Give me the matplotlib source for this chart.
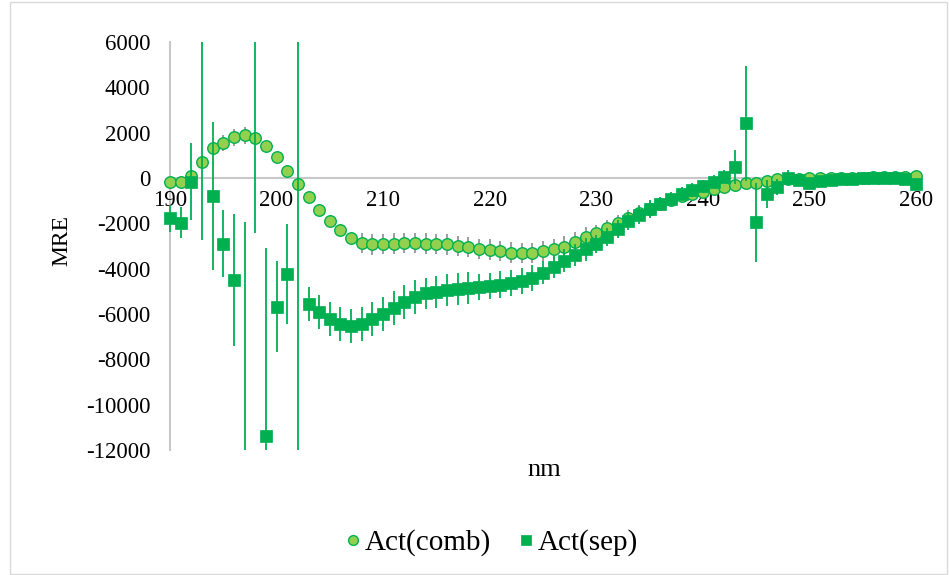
import matplotlib
matplotlib.use("Agg")
import matplotlib.pyplot as plt
from matplotlib.patches import Rectangle
import numpy as np

plt.rcParams['font.family'] = ['Liberation Serif', 'DejaVu Serif']

# ---------------- data ----------------
wavelength = list(range(190, 261))

comb_mre = [-160, -160, 100, 690, 1310, 1545, 1800, 1885, 1780, 1410,
            910, 320, -265, -825, -1410, -1885, -2300, -2660, -2860, -2930,
            -2900, -2890, -2880, -2880, -2890, -2900, -2930, -2990, -3050, -3120,
            -3160, -3220, -3290, -3300, -3300, -3220, -3150, -3030, -2820, -2620,
            -2410, -2210, -2000, -1780, -1560, -1350, -1150, -960, -800, -690,
            -600, -500, -390, -290, -240, -210, -130, -60, -30, -40,
            -20, -20, -10, 0, 10, 20, 30, 30, 30, 40,
            80]
comb_err = ([150] * 5 + [370] * 3 + [250] * 10 + [450] * 22 + [350] * 6
            + [200] * 10 + [100] * 15)

sep_mre = [-1780, -1973, -160, 7500, -790, -2900, -4500, -13000, 7500, -11390,
           -5680, -4250, -16000, -5560, -5900, -6220, -6420, -6520, -6420, -6200,
           -6000, -5750, -5460, -5240, -5090, -5020, -4950, -4900, -4840, -4800,
           -4750, -4700, -4620, -4530, -4400, -4170, -3920, -3650, -3400, -3150,
           -2900, -2600, -2250, -1900, -1620, -1360, -1140, -910, -690, -530,
           -370, -160, 60, 500, 2410, -1960, -710, -380, 20, -100,
           -240, -130, -80, -50, -30, -10, 0, -10, -20, -60,
           -270]
sep_err = ([600, 690, 1700, 10237, 3250, 1470, 2930, 11071, 9941, 8286,
            2000, 2200, 23000] + [750] * 11 + [700] * 5 + [580] * 6 + [500] * 5
           + [400] * 6 + [300] * 7 + [750, 2550, 1760, 600, 350, 350]
           + [150] * 11 + [250])

x_ticks = [190, 200, 210, 220, 230, 240, 250, 260]
y_ticks = [6000, 4000, 2000, 0, -2000, -4000, -6000, -8000, -10000, -12000]
y_tick_labels = ['6000', '4000', '2000', '0', '-2000', '-4000', '-6000',
                 '-8000', '-10000', '-12000']
series_names = ['Act(comb)', 'Act(sep)']

# ---------------- figure ----------------
W, H = 950, 575
fig = plt.figure(figsize=(W / 100, H / 100), dpi=100)
fig.patches.append(Rectangle((10 / W, 1 / H), 937 / W, 572 / H,
                             transform=fig.transFigure, fill=False,
                             edgecolor='#D9D9D9', linewidth=1.0))

ax = fig.add_axes([162.5 / W, 125 / H, 761 / W, 408 / H])
ax.set_xlim(189.3, 260.7)
ax.set_ylim(-12000, 6000)

# axes lines
for s in ['top', 'right']:
    ax.spines[s].set_visible(False)
ax.spines['left'].set_position(('data', 190))
ax.spines['left'].set_bounds(-12000, 6000)
ax.spines['bottom'].set_position(('data', 0))
ax.spines['bottom'].set_bounds(190, 260)
for s in ['left', 'bottom']:
    ax.spines[s].set_color('#C8C8C8')
    ax.spines[s].set_linewidth(1.5)
    ax.spines[s].set_zorder(0.5)

ax.set_xticks(x_ticks)
ax.set_xticklabels([str(t) for t in x_ticks])
ax.set_yticks(y_ticks)
ax.set_yticklabels(y_tick_labels)
ax.tick_params(axis='both', length=0, labelsize=16.5)
ax.tick_params(axis='y', pad=14)
ax.tick_params(axis='x', pad=9)

comb_face = '#92D050'
comb_edge = '#00B050'
sep_color = '#00B050'

# comb series
ax.errorbar(wavelength, comb_mre, yerr=comb_err, fmt='none',
            ecolor='#8C8C8C', elinewidth=1.2, capsize=0, zorder=2)
l1, = ax.plot(wavelength, comb_mre, linestyle='none', marker='o',
              markersize=8.3, markerfacecolor=comb_face,
              markeredgecolor=comb_edge, markeredgewidth=1.0, zorder=3)
# sep series
ax.errorbar(wavelength, sep_mre, yerr=sep_err, fmt='none',
            ecolor=sep_color, elinewidth=1.3, capsize=0, zorder=4)
l2, = ax.plot(wavelength, sep_mre, linestyle='none', marker='s',
              markersize=8.0, markerfacecolor=sep_color,
              markeredgecolor=sep_color, markeredgewidth=0.5, zorder=5)

fig.text(62 / W, 1 - 240 / H, 'MRE', rotation=90, ha='center', va='center',
         fontsize=17)
fig.text(544 / W, 1 - 470 / H, 'nm', ha='center', va='center', fontsize=19)

leg = fig.legend([l1, l2], series_names, loc='center',
                 bbox_to_anchor=(491 / W, 1 - 543 / H), ncol=2, frameon=False,
                 fontsize=21, handlelength=0.6, handletextpad=0.1,
                 columnspacing=0.9, markerscale=0.85)

fig.savefig('out.png', dpi=100)
